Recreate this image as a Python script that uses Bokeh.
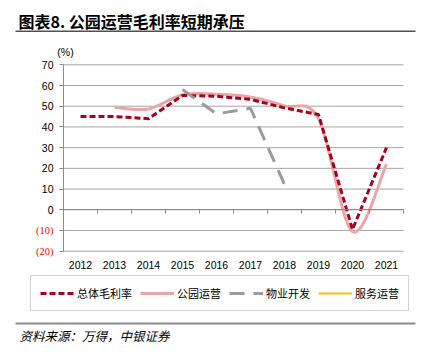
import math
from bokeh.plotting import figure
from bokeh.models import (Range1d, LinearAxis, FixedTicker, Legend, LegendItem, Label,
                          LabelSet, ColumnDataSource, BoxAnnotation)
from bokeh.embed import file_html
from bokeh.resources import INLINE

nan = float("nan")

# ---- data ----
years = [2012, 2013, 2014, 2015, 2016, 2017, 2018, 2019, 2020, 2021]
total_margin = [45, 45, 44, 55.2, 54.8, 53.3, 49.2, 46, -9.5, 30]          # 总体毛利率
park_ops = [nan, 49.5, 48.7, 55.5, 55.8, 54.5, 50.2, 44, -10.5, 22]        # 公园运营
property_dev = [nan, nan, nan, 58, 46.3, 49, 12.2, nan, nan, nan]          # 物业开发
service_ops = [nan] * 10                                                    # 服务运营
y_ticks = [-20, -10, 0, 10, 20, 30, 40, 50, 60, 70]
neg_ticks = [-10, -20]
neg_labels = ["(10)", "(20)"]
series_names = ["总体毛利率", "公园运营", "物业开发", "服务运营"]
title_text = "图表8. 公园运营毛利率短期承压"
unit_text = "(%)"
source_text = "资料来源：万得，中银证券"

# ---- layout (pixels) ----
W, H = 424, 357
PX0, PX1 = 63, 403          # plot area left/right (canvas px)
PY_TOP, PY_BOT = 64.3, 250.7  # plot area top/bottom (canvas px, from top)
xmin, xmax = years[0] - 0.5, years[-1] + 0.5
ymin, ymax = y_ticks[0], y_ticks[-1]
sx = (PX1 - PX0) / (xmax - xmin)
sy = (PY_BOT - PY_TOP) / (ymax - ymin)
x_range = Range1d(xmin - PX0 / sx, xmax + (W - PX1) / sx)
y_range = Range1d(ymin - (H - PY_BOT) / sy, ymax + PY_TOP / sy)

p = figure(width=W, height=H, output_backend="svg", toolbar_location=None,
           x_range=x_range, y_range=y_range, x_axis_type=None, y_axis_type=None,
           min_border=0, min_border_left=0, min_border_right=0, min_border_top=0, min_border_bottom=0)
p.outline_line_color = None
p.background_fill_color = "white"
p.border_fill_color = "white"
p.xgrid.visible = False
p.ygrid.visible = False

# gridlines
GRIDC = "#a6a6a6"
p.segment(x0=[xmin] * len(y_ticks), x1=[xmax] * len(y_ticks), y0=y_ticks, y1=y_ticks,
          line_color=GRIDC, line_width=1)

# y axis
yax = LinearAxis(ticker=FixedTicker(ticks=y_ticks), fixed_location=xmin, bounds=(ymin, ymax))
yax.major_label_overrides = {t: " " for t in neg_ticks}
yax.axis_line_color = "#8c8c8c"
yax.major_tick_line_color = "#8c8c8c"
yax.major_tick_out = 4
yax.major_tick_in = 0
yax.minor_tick_line_color = None
yax.major_label_standoff = 6
yax.major_label_text_font = "Liberation Sans"
yax.major_label_text_font_size = "10.5px"
yax.major_label_text_color = "#000000"
p.add_layout(yax, "left")

# x axis with labels at bottom of plot area
xax = LinearAxis(ticker=FixedTicker(ticks=years), fixed_location=ymin, bounds=(xmin, xmax))
xax.axis_line_color = None
xax.major_tick_line_color = None
xax.minor_tick_line_color = None
xax.major_label_standoff = 4
xax.major_label_text_font = "Liberation Sans"
xax.major_label_text_font_size = "10.5px"
xax.major_label_text_color = "#000000"
p.add_layout(xax, "below")

# zero line axis with category-boundary ticks
zax = LinearAxis(ticker=FixedTicker(ticks=[y - 0.5 for y in years] + [xmax]), fixed_location=0,
                 bounds=(xmin, xmax))
zax.axis_line_color = "#8c8c8c"
zax.major_tick_line_color = "#8c8c8c"
zax.major_tick_in = 4
zax.major_tick_out = 0
zax.minor_tick_line_color = None
zax.major_label_text_font_size = "0px"
zax.major_label_text_color = None
p.add_layout(zax, "above")

# red negative labels
neg_src = ColumnDataSource(dict(y=neg_ticks, t=neg_labels, x=[xmin] * len(neg_ticks)))
p.add_layout(LabelSet(x="x", y="y", text="t", x_offset=-10, source=neg_src,
                      text_align="right", text_baseline="middle", text_color="#ff0000",
                      text_font="Liberation Sans", text_font_size="10.5px"))

# ---- series ----
src = ColumnDataSource(dict(x=years, total=total_margin, park=park_ops, dev=property_dev, svc=service_ops))

PINK = "#eba5a5"
DRED = "#a8001f"
GRAY = "#9b9b9b"
GOLD = "#ffc000"

# pink smoothed (Catmull-Rom bezier through the data points)
pts = [(x, y) for x, y in zip(years, park_ops) if not math.isnan(y)]
seg = dict(x0=[], y0=[], x1=[], y1=[], cx0=[], cy0=[], cx1=[], cy1=[])
n = len(pts)
for i in range(n - 1):
    p0 = pts[i - 1] if i > 0 else pts[i]
    p1, p2 = pts[i], pts[i + 1]
    p3 = pts[i + 2] if i + 2 < n else pts[i + 1]
    seg["x0"].append(p1[0]); seg["y0"].append(p1[1])
    seg["x1"].append(p2[0]); seg["y1"].append(p2[1])
    seg["cx0"].append(p1[0] + (p2[0] - p0[0]) / 6); seg["cy0"].append(p1[1] + (p2[1] - p0[1]) / 6)
    seg["cx1"].append(p2[0] - (p3[0] - p1[0]) / 6); seg["cy1"].append(p2[1] - (p3[1] - p1[1]) / 6)
r_park = p.bezier(x0="x0", y0="y0", x1="x1", y1="y1", cx0="cx0", cy0="cy0", cx1="cx1", cy1="cy1",
                  source=ColumnDataSource(seg), line_color=PINK, line_width=3)

r_total = p.line("x", "total", source=src, line_color=DRED, line_width=3, line_dash="6 3")
r_dev = p.line("x", "dev", source=src, line_color=GRAY, line_width=3, line_dash="15 9")
r_svc = p.line("x", "svc", source=src, line_color=GOLD, line_width=2)

legend = Legend(items=[
    LegendItem(label=series_names[0], renderers=[r_total]),
    LegendItem(label=series_names[1], renderers=[r_park]),
    LegendItem(label=series_names[2], renderers=[r_dev]),
    LegendItem(label=series_names[3], renderers=[r_svc]),
], orientation="horizontal", location=(30, H - 311), margin=0, padding=9,
    spacing=8, glyph_width=34, glyph_height=12, label_height=12, label_standoff=3,
    label_text_font="Noto Sans CJK SC", label_text_font_size="11px", label_text_color="#000000",
    border_line_color="#a6a6a6", border_line_width=1, background_fill_color="white",
    background_fill_alpha=1)
p.add_layout(legend, "center")

# ---- texts & rules ----
p.add_layout(Label(x=18, y=H - 20, x_units="screen", y_units="screen", text=title_text,
                   text_font="Noto Sans CJK SC", text_font_size="16px", text_font_style="bold",
                   text_baseline="middle", text_align="left", text_color="#000000"))
p.add_layout(Label(x=65, y=H - 51, x_units="screen", y_units="screen", text=unit_text,
                   text_font="Liberation Sans", text_font_size="10.5px",
                   text_baseline="middle", text_align="center", text_color="#000000"))
p.add_layout(Label(x=19, y=H - 335, x_units="screen", y_units="screen", text=source_text,
                   text_font="Noto Sans CJK SC", text_font_size="12.5px", text_font_style="italic",
                   text_baseline="middle", text_align="left", text_color="#000000"))
p.add_layout(BoxAnnotation(left=15, right=415, top=H - 30, bottom=H - 31.5,
                           left_units="screen", right_units="screen", top_units="screen", bottom_units="screen",
                           fill_color="#505050", fill_alpha=1, line_color=None))
p.add_layout(BoxAnnotation(left=15, right=415, top=H - 322, bottom=H - 324,
                           left_units="screen", right_units="screen", top_units="screen", bottom_units="screen",
                           fill_color="#8c8c8c", fill_alpha=1, line_color=None))

open("out.html", "w").write(file_html(p, INLINE))
